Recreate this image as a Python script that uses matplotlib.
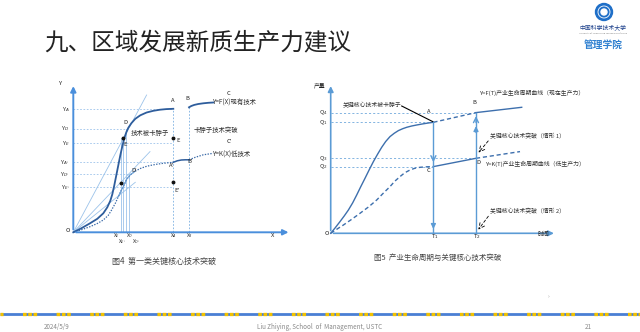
import matplotlib
matplotlib.use('Agg')
import matplotlib.pyplot as plt
from matplotlib.patches import Circle

plt.rcParams['font.family'] = ['Noto Sans CJK SC', 'DejaVu Sans']
plt.rcParams['lines.scale_dashes'] = False

W, H = 640, 332

# ---- figure 4 (left): Y=F(X) vs Y=K(X)
f_x = [0, 8, 16.7, 24, 30, 34, 37, 39, 41, 43, 45, 47, 49, 51, 53, 55, 58, 62, 67, 73.3, 80, 86.7, 93, 100]
f_y = [0, 4, 9, 13.5, 19, 25, 31.5, 38, 47, 57, 67, 77, 86, 94, 100, 104.5, 109, 113.5, 117, 119.8, 121.5, 122.6, 123.2, 123.5]
g_x = [115.7, 118, 121, 125, 130, 135, 140]
g_y = [125, 126.3, 127.4, 128.3, 129, 129.5, 129.8]
k_x = [0, 8, 16.7, 24, 30, 35, 38.3, 42, 45, 48, 50, 53.3, 57, 61.7, 67, 72, 76.7, 83, 90, 96.7, 100]
k_y = [0, 2.5, 5.6, 8.8, 12.3, 17, 22.3, 29, 35.6, 42, 45.6, 53, 57.5, 61, 63.8, 65.6, 66.8, 68, 69, 69.7, 70]
kb_x = [100, 104, 108, 112, 115.7]
kb_y = [70, 71.5, 72.3, 72.5, 72.5]
kc_x = [115.7, 122, 130, 140]
kc_y = [72.5, 75, 77.5, 79]
tan_end_x = [73.3, 76.7, 62]
tan_end_y = [137.3, 80.7, 50]
ylev_names = ['Y$_A$', 'Y$_D$', 'Y$_E$', "Y$_{A'}$", "Y$_{D'}$", "Y$_{E'}$"]
ylev_vals = [123, 103.3, 89, 70, 58, 45]
ylev_ends = [100, 54, 100, 100, 58, 100]
xe_pos = [47.5, 50, 52.7, 55.5]
xe_tops = [94, 94, 103, 58]
x_a, x_b = 100, 115.7

# ---- figure 5 (right): industry life cycle
F_x = [0, 4.5, 9.3, 13.5, 17.7, 22, 26, 30, 34.3, 38.5, 42.7, 47, 51, 55, 59.3, 63.5, 67.7, 72, 76, 81, 86, 92, 97, 102.7]
F_y = [0, 5.5, 11.7, 17.3, 23.3, 30.5, 38.3, 46.5, 55, 63.5, 71.7, 79.3, 86, 91.8, 96.7, 100, 102.7, 104.6, 106, 107.3, 108.3, 109.4, 110.2, 111]
K_x = [0, 6, 12.7, 21, 29.3, 38, 46, 52, 59.3, 64, 69.3, 74, 79.3, 84, 89.3, 96, 102.7]
K_y = [0, 4, 8.3, 14, 20, 26.5, 33.3, 39.5, 46.7, 52, 56.7, 60.5, 63.3, 65, 66, 66.5, 66.7]
t1, t2 = 102.7, 145.3
q_a, q_b, q_c, q_d = 111, 120.7, 66.7, 75
F_end = (191, 126)
K_end = (189.3, 81.7)
q_names = ['Q$_4$', 'Q$_1$', 'Q$_3$', 'Q$_2$']
q_vals = [q_b, q_a, q_d, q_c]

fig = plt.figure(figsize=(6.4, 3.32), dpi=100)


def panel(ox, oy, x0, x1, y0, y1):
    ax = fig.add_axes([(ox + x0) / W, (H - oy + y0) / H, (x1 - x0) / W, (y1 - y0) / H])
    ax.set_xlim(x0, x1)
    ax.set_ylim(y0, y1)
    ax.axis('off')
    return ax


# title
fig.text(44 / W, 1 - 43 / H, '九、区域发展新质生产力建议', fontsize=17, va='center', color='#222222')

# ---------------- left diagram
ax = panel(73.3, 232.3, -45, 235, -40, 155)
axis_c = '#4a8fdc'
light = '#9cc3ea'
ax.annotate('', xy=(218, 0), xytext=(0, 0),
            arrowprops=dict(arrowstyle='-|>', color=axis_c, lw=1.4, mutation_scale=8))
ax.annotate('', xy=(0, 149), xytext=(0, 0),
            arrowprops=dict(arrowstyle='-|>', color=axis_c, lw=1.4, mutation_scale=8))
for ex, ey in zip(tan_end_x, tan_end_y):
    ax.plot([0, ex], [0, ey], color=light, lw=0.6)
for v, e in zip(ylev_vals, ylev_ends):
    ax.plot([0, e], [v, v], color=light, lw=0.6, ls=(0, (1.2, 1.2)))
for n, v in zip(ylev_names, ylev_vals):
    ax.text(-4, v, n, fontsize=4.2, ha='right', va='center', color='#333333')
for xp, top in zip(xe_pos, xe_tops):
    ax.plot([xp, xp], [0, top], color=light, lw=0.6)
ax.plot([x_a, x_a], [0, f_y[-1]], color='#7aaee0', lw=0.6, ls=(0, (1.2, 1.2)))
ax.plot([x_b, x_b], [0, g_y[0]], color='#7aaee0', lw=0.6, ls=(0, (1.2, 1.2)))
ax.plot(k_x, k_y, color='#3a6aa8', lw=0.9, ls=(0, (1, 1)))
ax.plot(k_x[8:14], k_y[8:14], color='#6a9fd6', lw=0.8)
ax.plot(kb_x, kb_y, color='#2e5d9c', lw=1.1)
ax.plot(kc_x, kc_y, color='#3a6aa8', lw=0.9, ls=(0, (1, 1)))
ax.plot(f_x, f_y, color='#2e5d9c', lw=1.3)
ax.plot(g_x, g_y, color='#2e5d9c', lw=1.3)
ax.plot([50, 100, 100, 47.7], [94.7, 94, 50.7, 49.7], 'o', color='#111111', ms=1.8)
lab = dict(fontsize=4.2, ha='center', va='center', color='#222222')
for s, x, y in [('A', 99.3, 131.7), ('B', 114.3, 134), ('C', 155, 139), ("C'", 155.7, 90.7),
                ('D', 52.3, 110), ('E', 51.7, 88.3), ('E', 105, 92.3), ("E'", 103.3, 42.3),
                ("A'", 98.3, 66.7), ("B'", 117.3, 71), ("D'", 61, 61.3), ('O', -5, 2.3),
                ('Y', -13.3, 149), ('X', 199, -3.3)]:
    ax.text(x, y, s, **lab)
for s, x, y in [('X$_E$', 43, -2.8), ('X$_D$', 56, -2.8), ("X$_{E'}$", 48.5, -9),
                ("X$_{D'}$", 63, -9), ('X$_A$', x_a, -3), ('X$_B$', x_b, -3)]:
    ax.text(x, y, s, fontsize=3.5, ha='center', va='center', color='#333333')
ax.text(57, 99, '技术被卡脖子', fontsize=4.6, va='center', color='#333333')
ax.text(120, 102.3, '卡脖子技术突破', fontsize=4.6, va='center', color='#333333')
ax.text(139, 130, 'Y=F(X)现有技术', fontsize=4.6, va='center', color='#333333')
ax.text(139, 77.3, 'Y=K(X)低技术', fontsize=4.6, va='center', color='#333333')
ax.text(90.7, -29.4, '图4  第一类关键核心技术突破', fontsize=5.8, ha='center', va='center', color='#444444')

# ---------------- right diagram
bx = panel(330.7, 233.3, -25, 300, -35, 155)
rc = '#5b9bd5'
cc = '#3d6fad'
bx.annotate('', xy=(226, 0), xytext=(0, 0),
            arrowprops=dict(arrowstyle='-|>', color=rc, lw=1.2, mutation_scale=8))
bx.annotate('', xy=(0, 150), xytext=(0, 0),
            arrowprops=dict(arrowstyle='-|>', color=rc, lw=1.2, mutation_scale=8))
for v, e in zip([q_b, q_a, q_d, q_c], [t2, t1, t2, t1]):
    bx.plot([0, e], [v, v], color='#6fa8dc', lw=0.6, ls=(0, (1.5, 1.5)))
for n, v in zip(q_names, q_vals):
    bx.text(-3, v, n, fontsize=4.2, ha='right', va='center', color='#333333')
bx.plot(F_x, F_y, color=cc, lw=1.0)
bx.plot([t1, t2], [q_a, q_b], color=cc, lw=1.0, ls=(0, (3, 2)))
bx.plot([t2, F_end[0]], [q_b, F_end[1]], color=cc, lw=1.0)
bx.plot(K_x, K_y, color=cc, lw=1.0, ls=(0, (3, 2)))
bx.plot([t1, t2], [q_c, q_d], color=cc, lw=1.0)
bx.plot([t2, K_end[0]], [q_d, K_end[1]], color=cc, lw=1.0, ls=(0, (3, 2)))
bx.plot([t1, t1], [q_a, 0], color=rc, lw=1.0)
bx.plot([t2, t2], [0, q_b], color=rc, lw=1.0)
bx.annotate('', xy=(t1, 1.5), xytext=(t1, 12),
            arrowprops=dict(arrowstyle='-|>', color=rc, lw=1.0, mutation_scale=7))
bx.annotate('', xy=(t1, 68.3), xytext=(t1, 80),
            arrowprops=dict(arrowstyle='->', color=rc, lw=1.0, mutation_scale=9))
bx.annotate('', xy=(t2, 110), xytext=(t2, 98),
            arrowprops=dict(arrowstyle='-|>', color=rc, lw=1.0, mutation_scale=7))
bx.annotate('', xy=(t2, 120), xytext=(t2, 108),
            arrowprops=dict(arrowstyle='->', color=rc, lw=1.0, mutation_scale=9))
bx.plot([71, 102], [127.3, 111.7], color='black', lw=0.8)
bx.annotate('', xy=(146, 78.5), xytext=(159.3, 94.5),
            arrowprops=dict(arrowstyle='->', color='black', lw=0.6, ls=(0, (2, 1.5))))
bx.annotate('', xy=(146, 1.5), xytext=(159.3, 19.3),
            arrowprops=dict(arrowstyle='->', color='black', lw=0.6, ls=(0, (2, 1.5))))
tx = dict(fontsize=4.2, va='center', color='#333333')
bx.text(71, 128.3, '关键核心技术被卡脖子', ha='right', **tx)
bx.text(148.3, 140, 'Y=F(T)产业生命周期曲线（现在生产力）', **tx)
bx.text(159.3, 97.7, '关键核心技术突破（情形 1）', **tx)
bx.text(154.3, 69.3, 'Y=K(T)产业生命周期曲线（低生产力）', **tx)
bx.text(159.3, 22.7, '关键核心技术突破（情形 2）', **tx)
for s, x, y in [('A', 98.3, 121.7), ('B', 143.3, 131), ('C', 97.7, 62.7), ('D', 147.7, 70.7),
                ('O', -4, 0), ('T$_1$', 103.7, -3.3), ('T$_2$', 145.8, -3.3),
                ('产量', -11.3, 148.3), ('时间', 212.7, -1)]:
    bx.text(x, y, s, fontsize=4.2, ha='center', va='center', color='#222222')
bx.text(106.8, -24.7, '图5  产业生命周期与关键核心技术突破', fontsize=5.4, ha='center', va='center', color='#444444')

# ---------------- logo
lg = panel(604, 12, -10, 10, -10, 10)
lg.add_patch(Circle((0, 0), 8.5, color='#1f6fc8'))
lg.add_patch(Circle((0, 0), 6, fill=False, ec='white', lw=0.6))
lg.add_patch(Circle((0, 0), 3, color='white'))
fig.text(603 / W, 1 - 27 / H, '中国科学技术大学', fontsize=4.2, ha='center', va='center', color='#1b3f8a')
fig.text(603 / W, 1 - 33 / H, 'University of Science and Technology of China', fontsize=1.6,
         ha='center', va='center', color='#777777')
fig.text(603 / W, 1 - 45 / H, '管理学院', fontsize=7, ha='center', va='center', color='#2f80d0',
         weight='bold')

# ---------------- footer
ft = panel(0, 314, 0, 640, -5, 5)
ft.plot([0, 640], [0, 0], color='#4a7fd4', lw=2.0, solid_capstyle='butt')
ft.plot([0, 640], [0, 0], color='#f2c200', lw=2.4, solid_capstyle='butt',
        ls=(8, (2.6, 1.2, 2.6, 1.2, 2.6, 14)))
fig.text(57 / W, 1 - 327 / H, '2024/5/9', fontsize=4.5, ha='center', va='center', color='#888888')
fig.text(320 / W, 1 - 327 / H, 'Liu Zhiying, School  of  Management, USTC', fontsize=4.5,
         ha='center', va='center', color='#888888')
fig.text(588 / W, 1 - 327 / H, '21', fontsize=4.5, ha='center', va='center', color='#888888')
fig.text(549 / W, 1 - 297 / H, '›', fontsize=4, ha='center', va='center', color='#999999')

fig.savefig('out.png', dpi=100)
